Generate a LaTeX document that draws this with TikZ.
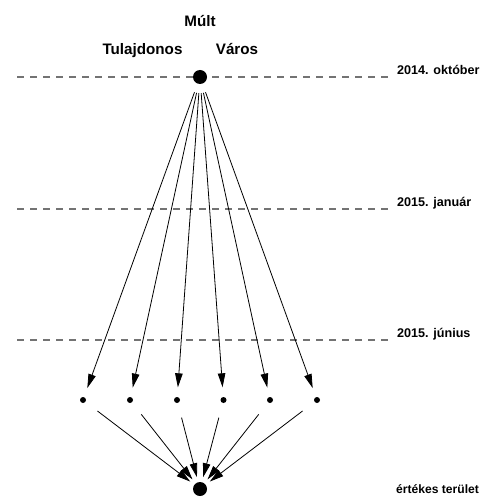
\documentclass[tikz,border=0pt]{standalone}
\usepackage{fontspec}
\setmainfont{Liberation Sans}
\usetikzlibrary{arrows.meta}
\begin{document}
\begin{tikzpicture}[x=1pt,y=-1pt,
  bigdot/.style={circle,fill=black,inner sep=0pt,minimum size=14pt},
  smalldot/.style={circle,fill=black,inner sep=0pt,minimum size=6pt},
  timeline/.style={draw=black!55,line width=1.1pt,dash pattern=on 7pt off 6pt},
  datelabel/.style={anchor=base west,font=\bfseries\fontsize{12.6}{15}\selectfont,inner sep=0pt},
  title/.style={anchor=base,font=\bfseries\fontsize{15.2}{18}\selectfont,inner sep=0pt},
  arr/.style={-{Triangle[length=14pt,width=7.5pt]},line width=0.8pt}]
\useasboundingbox (0,0) rectangle (486,497);

% headings
\node[title] (mult) at (200,27) {Múlt};
\node[title] (owner) at (142.5,55) {Tulajdonos};
\node[title] (city) at (237,55) {Város};

% time lines with their dates
\coordinate (l1a) at (17,77);  \coordinate (l1b) at (393,77);
\coordinate (l2a) at (17,209); \coordinate (l2b) at (393,209);
\coordinate (l3a) at (17,340); \coordinate (l3b) at (393,340);
\draw[timeline] (l1a) -- (l1b);
\draw[timeline] (l2a) -- (l2b);
\draw[timeline] (l3a) -- (l3b);
\node[datelabel] (d1) at (397,75) {2014. október};
\node[datelabel] (d2) at (397,206) {2015. január};
\node[datelabel] (d3) at (397,337) {2015. június};

% start point, intermediate points and target
\node[bigdot] (top) at (200,77) {};
\node[smalldot] (s1) at (83,400) {};
\node[smalldot] (s2) at (130,400) {};
\node[smalldot] (s3) at (177,400) {};
\node[smalldot] (s4) at (223.5,400) {};
\node[smalldot] (s5) at (270,400) {};
\node[smalldot] (s6) at (317,400) {};
\node[bigdot] (bot) at (200,489) {};
\node[anchor=base west,font=\bfseries\fontsize{12.1}{14}\selectfont,inner sep=0pt] (area) at (396,493) {értékes terület};

% fan-out and fan-in
\foreach \i in {1,...,6}{
  \draw[arr,shorten <=9pt,shorten >=9.5pt] (top) -- (s\i);
  \draw[arr,shorten <=15pt,shorten >=5pt] (s\i) -- (bot);
}
\end{tikzpicture}
\end{document}
